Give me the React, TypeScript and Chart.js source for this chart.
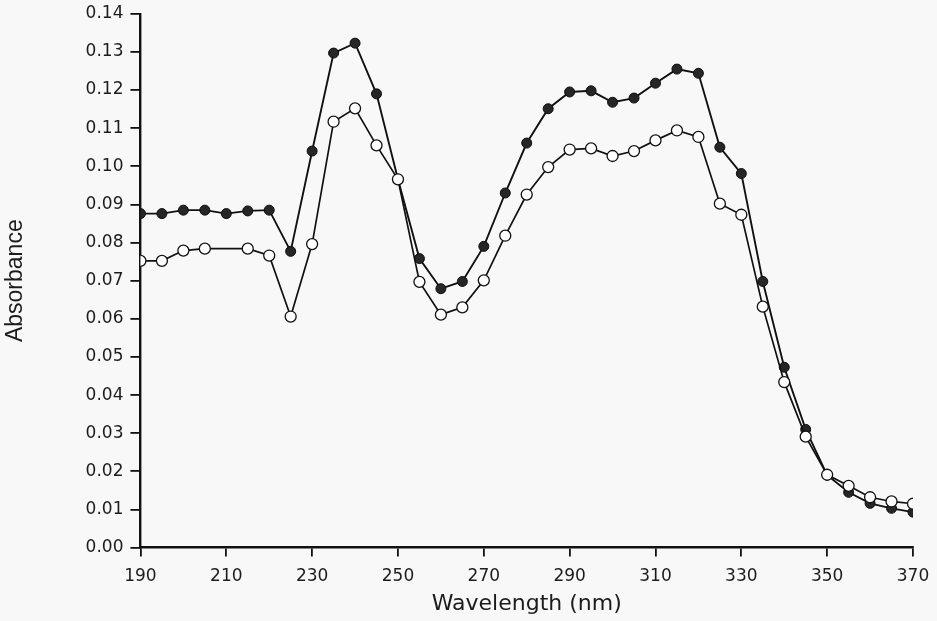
import React, { useEffect, useRef } from "react";
import { Chart, registerables } from "chart.js";

Chart.register(...registerables);

const wavelengths = [190, 195, 200, 205, 210, 215, 220, 225, 230, 235, 240, 245, 250, 255, 260, 265, 270, 275, 280, 285, 290, 295, 300, 305, 310, 315, 320, 325, 330, 335, 340, 345, 350, 355, 360, 365, 370];

const filledSeries = [0.0876, 0.0876, 0.0885, 0.0885, 0.0876, 0.0883, 0.0885, 0.0777, 0.104, 0.1297, 0.1323, 0.119, 0.0966, 0.0758, 0.0679, 0.0698, 0.079, 0.093, 0.1061, 0.1151, 0.1195, 0.1198, 0.1168, 0.1179, 0.1218, 0.1255, 0.1244, 0.105, 0.0981, 0.0698, 0.0473, 0.031, 0.019, 0.0145, 0.0116, 0.0103, 0.0093];

const openSeries = [0.0752, 0.0752, 0.0779, 0.0784, null, 0.0784, 0.0766, 0.0606, 0.0796, 0.1117, 0.1152, 0.1055, 0.0966, 0.0697, 0.0611, 0.063, 0.0701, 0.0818, 0.0926, 0.0998, 0.1044, 0.1047, 0.1027, 0.104, 0.1068, 0.1094, 0.1077, 0.0902, 0.0873, 0.0632, 0.0434, 0.0291, 0.0191, 0.0162, 0.0132, 0.0121, 0.0115];

const xTicks = [190, 210, 230, 250, 270, 290, 310, 330, 350, 370];

const bgPlugin = {
  id: "bg",
  beforeDraw(chart: any) {
    const ctx = chart.ctx;
    ctx.save();
    ctx.fillStyle = "#f8f8f8";
    ctx.fillRect(0, 0, chart.width, chart.height);
    ctx.restore();
  },
};

export default function App() {
  const ref = useRef<HTMLCanvasElement | null>(null);
  useEffect(() => {
    if (!ref.current) return;
    const wide = "'DejaVu Sans', sans-serif";
    const narrow = "'Liberation Sans', Arial, Helvetica, sans-serif";
    const chart = new Chart(ref.current, {
      type: "line",
      data: {
        datasets: [
          {
            label: "open",
            data: wavelengths.map((w, i) => ({ x: w, y: openSeries[i] })),
            borderColor: "#111111",
            borderWidth: 1.7,
            backgroundColor: "#ffffff",
            pointBackgroundColor: "#ffffff",
            pointBorderColor: "#111111",
            pointBorderWidth: 1.3,
            pointRadius: 5.5,
            spanGaps: true,
            tension: 0,
          },
          {
            label: "filled",
            data: wavelengths.map((w, i) => ({ x: w, y: filledSeries[i] })),
            borderColor: "#111111",
            borderWidth: 1.9,
            backgroundColor: "#222222",
            pointBackgroundColor: "#262626",
            pointBorderColor: "#0d0d0d",
            pointBorderWidth: 1,
            pointRadius: 5,
            tension: 0,
          },
        ],
      },
      options: {
        animation: false,
        responsive: true,
        maintainAspectRatio: false,
        layout: { padding: { left: 0, right: 24, top: 10, bottom: 0 } },
        plugins: { legend: { display: false }, tooltip: { enabled: false } },
        scales: {
          x: {
            type: "linear",
            min: 190,
            max: 370,
            afterBuildTicks(axis: any) {
              axis.ticks = xTicks.map((v) => ({ value: v }));
            },
            afterFit(axis: any) {
              axis.paddingRight = 0;
            },
            grid: { display: true, drawOnChartArea: false, drawTicks: true, tickLength: 9, color: "#111", lineWidth: 1.8 },
            border: { display: true, color: "#111", width: 2.4 },
            ticks: { color: "#1c1c1c", font: { family: wide, size: 17 }, padding: 10, maxRotation: 0 },
            title: { display: true, text: "Wavelength (nm)", color: "#1c1c1c", font: { family: wide, size: 22, lineHeight: 1.0 }, padding: { top: -4, bottom: 6 } },
          },
          y: {
            min: 0,
            max: 0.14,
            ticks: {
              stepSize: 0.01,
              color: "#1c1c1c",
              font: { family: wide, size: 17, lineHeight: 0.8 },
              padding: 7,
              callback: (v: any) => Number(v).toFixed(2),
            },
            grid: { display: true, drawOnChartArea: false, drawTicks: true, tickLength: 10, color: "#111", lineWidth: 1.8 },
            border: { display: true, color: "#111", width: 2.4 },
            title: { display: true, text: "Absorbance", color: "#1c1c1c", font: { family: narrow, size: 23 }, padding: { top: 2, bottom: 49 } },
          },
        },
      },
      plugins: [bgPlugin],
    } as any);
    return () => chart.destroy();
  }, []);
  return (
    <div style={{ position: "fixed", left: 0, top: 0, width: 937, height: 621, background: "#f8f8f8" }}>
      <canvas ref={ref} />
    </div>
  );
}
